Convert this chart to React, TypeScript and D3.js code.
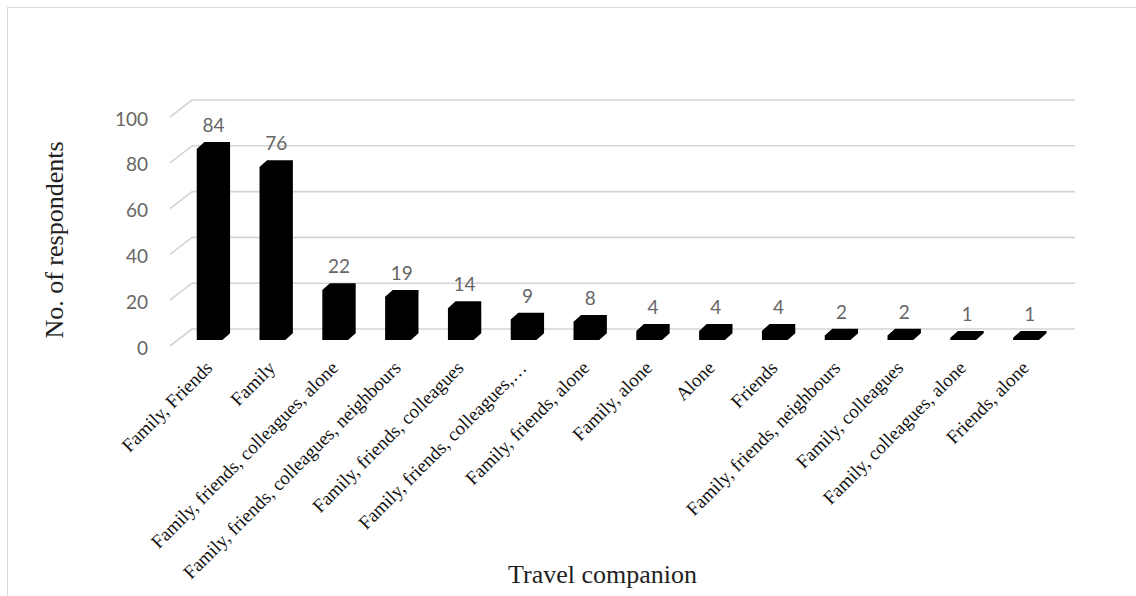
import * as d3 from "d3";

const categories = [
  "Family, Friends",
  "Family",
  "Family, friends, colleagues, alone",
  "Family, friends, colleagues, neighbours",
  "Family, friends, colleagues",
  "Family, friends, colleagues,…",
  "Family, friends, alone",
  "Family, alone",
  "Alone",
  "Friends",
  "Family, friends, neighbours",
  "Family, colleagues",
  "Family, colleagues, alone",
  "Friends, alone",
];
const respondents = [84, 76, 22, 19, 14, 9, 8, 4, 4, 4, 2, 2, 1, 1];
const yTicks = [0, 20, 40, 60, 80, 100];

const width = 1136;
const height = 596;

// fake 3d offsets (bar depth and side wall)
const depthX = 7.6;
const depthY = 6.8;
const wallX = 22;
const wallY = 17;

export default function App() {
  const x = d3.scaleBand(categories, [178.2, 1057.4]).paddingInner(0.59).paddingOuter(0.295);
  const yFront = d3.scaleLinear([0, 100], [340, 112.5]);
  const yBack = d3.scaleLinear([0, 100], [329, 100]);
  const bw = x.bandwidth();

  const barPath = (cat: string, v: number) => {
    const x0 = x(cat) as number;
    const yb = yFront(0);
    const yt = yFront(v);
    const p = d3.path();
    p.moveTo(x0, yb);
    p.lineTo(x0 + bw, yb);
    p.lineTo(x0 + bw + depthX, yb - depthY);
    p.lineTo(x0 + bw + depthX, yt - depthY);
    p.lineTo(x0 + depthX, yt - depthY);
    p.lineTo(x0, yt);
    p.closePath();
    return p.toString();
  };

  return (
    <svg
      width={width}
      height={height}
      style={{ position: "absolute", left: 0, top: 0, display: "block" }}
    >
      <rect x={7.5} y={7.5} width={1140} height={600} fill="#fff" stroke="#d9d9d9" strokeWidth={1} />

      {/* back wall + side wall gridlines */}
      <g stroke="#d4d4d4" strokeWidth={1.6} fill="none">
        {yTicks.map((t) => (
          <g key={t}>
            <line x1={192} x2={1075} y1={yBack(t)} y2={yBack(t)} />
            <line x1={192 - wallX} y1={yBack(t) + wallY} x2={192} y2={yBack(t)} />
          </g>
        ))}
      </g>

      {/* y tick labels */}
      <g fontFamily="Lato, 'Open Sans', sans-serif" fontSize={19} fill="#666" textAnchor="end">
        {yTicks.map((t) => (
          <text key={t} x={148} y={yBack(t) + 18} dominantBaseline="central">
            {t}
          </text>
        ))}
      </g>

      {/* bars */}
      <g fill="#000">
        {categories.map((c, i) => (
          <path key={c} d={barPath(c, respondents[i])} />
        ))}
      </g>

      {/* data labels */}
      <g fontFamily="Lato, 'Open Sans', sans-serif" fontSize={19} fill="#666" textAnchor="middle">
        {categories.map((c, i) => (
          <text key={c} x={(x(c) as number) + bw / 2 + depthX / 2} y={yFront(respondents[i]) - depthY - 10}>
            {respondents[i]}
          </text>
        ))}
      </g>

      {/* category labels */}
      <g fontFamily="'Liberation Serif', 'Times New Roman', serif" fontSize={19} fill="#111" textAnchor="end">
        {categories.map((c) => {
          const cx = (x(c) as number) + bw / 2 + 4;
          const cy = 369;
          return (
            <text key={c} transform={`translate(${cx},${cy}) rotate(-45)`}>
              {c}
            </text>
          );
        })}
      </g>

      {/* axis titles */}
      <text
        fontFamily="'Liberation Serif', 'Times New Roman', serif"
        fontSize={26}
        fill="#222"
        textAnchor="middle"
        transform="translate(63,240) rotate(-90)"
      >
        No. of respondents
      </text>
      <text
        fontFamily="'Liberation Serif', 'Times New Roman', serif"
        fontSize={26}
        fill="#222"
        textAnchor="middle"
        x={602.5}
        y={583}
      >
        Travel companion
      </text>
    </svg>
  );
}
